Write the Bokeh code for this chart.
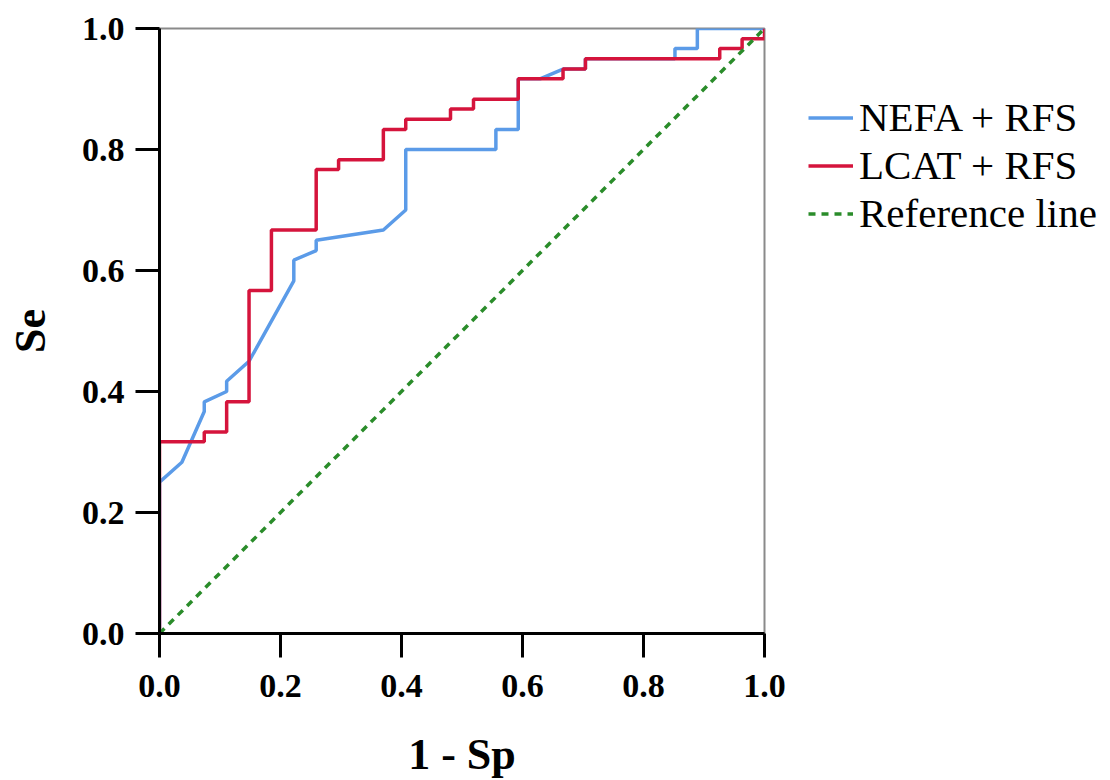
from bokeh.plotting import figure
from bokeh.models import Range1d, FixedTicker, NumeralTickFormatter, Legend, LegendItem
from bokeh.embed import file_html
from bokeh.resources import INLINE

# ROC curve data (1 - Sp, Se)
nefa_x = [0.0, 0.0, 0.037, 0.074, 0.074, 0.111, 0.111, 0.148, 0.222, 0.222, 0.259, 0.259,
          0.370, 0.407, 0.407, 0.556, 0.556, 0.593, 0.593, 0.630, 0.667, 0.704, 0.704,
          0.852, 0.852, 0.889, 0.889, 1.0]
nefa_y = [0.0, 0.250, 0.283, 0.367, 0.383, 0.400, 0.417, 0.450, 0.583, 0.617, 0.633, 0.650,
          0.667, 0.700, 0.800, 0.800, 0.833, 0.833, 0.917, 0.917, 0.933, 0.933, 0.950,
          0.950, 0.967, 0.967, 1.0, 1.0]

lcat_x = [0.0, 0.0, 0.074, 0.074, 0.111, 0.111, 0.148, 0.148, 0.185, 0.185, 0.259, 0.259,
          0.296, 0.296, 0.370, 0.370, 0.407, 0.407, 0.481, 0.481, 0.519, 0.519, 0.593,
          0.593, 0.667, 0.667, 0.704, 0.704, 0.926, 0.926, 0.963, 0.963, 1.0, 1.0]
lcat_y = [0.0, 0.317, 0.317, 0.333, 0.333, 0.383, 0.383, 0.567, 0.567, 0.667, 0.667, 0.767,
          0.767, 0.783, 0.783, 0.833, 0.833, 0.850, 0.850, 0.867, 0.867, 0.883, 0.883,
          0.917, 0.917, 0.933, 0.933, 0.950, 0.950, 0.967, 0.967, 0.983, 0.983, 1.0]

ref_x = [0.0, 1.0]
ref_y = [0.0, 1.0]

ticks = [0.0, 0.2, 0.4, 0.6, 0.8, 1.0]
series_names = ["NEFA + RFS", "LCAT + RFS", "Reference line"]

BLUE = "#5b9be8"
RED = "#d5143c"
GREEN = "#2a8c2a"
FONT = "Liberation Serif"

p = figure(frame_width=605, frame_height=605, output_backend="svg", toolbar_location=None,
           x_range=Range1d(0, 1), y_range=Range1d(0, 1))
p.min_border_left = 159
p.min_border_top = 28
p.min_border_right = 6
p.min_border_bottom = 0

p.xgrid.visible = False
p.ygrid.visible = False
p.outline_line_color = "#8a8a8a"
p.outline_line_width = 2
p.background_fill_color = "white"
p.border_fill_color = "white"

r_nefa = p.line(nefa_x, nefa_y, line_color=BLUE, line_width=3.5)
r_lcat = p.line(lcat_x, lcat_y, line_color=RED, line_width=3.5)
r_ref = p.line(ref_x, ref_y, line_color=GREEN, line_width=3.5, line_dash="7 6")

for ax in (p.xaxis[0], p.yaxis[0]):
    ax.ticker = FixedTicker(ticks=ticks)
    ax.formatter = NumeralTickFormatter(format="0.0")
    ax.axis_line_color = "black"
    ax.axis_line_width = 3
    ax.major_tick_line_color = "black"
    ax.major_tick_line_width = 3
    ax.major_tick_in = 0
    ax.major_tick_out = 24
    ax.minor_tick_line_color = None
    ax.major_label_text_font = FONT
    ax.major_label_text_font_style = "bold"
    ax.major_label_text_font_size = "34px"
    ax.major_label_text_color = "black"
    ax.axis_label_text_font = FONT
    ax.axis_label_text_font_style = "bold"
    ax.axis_label_text_font_size = "44px"
    ax.axis_label_text_color = "black"

p.xaxis.axis_label = "1 - Sp"
p.yaxis.axis_label = "Se"
p.xaxis.major_label_standoff = 17
p.yaxis.major_label_standoff = 11
p.xaxis.axis_label_standoff = 30
p.yaxis.axis_label_standoff = 24

legend = Legend(items=[
    LegendItem(label=series_names[0], renderers=[r_nefa]),
    LegendItem(label=series_names[1], renderers=[r_lcat]),
    LegendItem(label=series_names[2], renderers=[r_ref]),
], location=(34, 386))
legend.border_line_alpha = 0
legend.background_fill_alpha = 0
legend.label_text_font = FONT
legend.label_text_font_size = "41px"
legend.label_text_color = "black"
legend.glyph_width = 45
legend.glyph_height = 47
legend.label_height = 47
legend.label_standoff = 6
legend.spacing = 0
legend.padding = 10
legend.margin = 0
p.add_layout(legend, "right")

open("out.html", "w").write(file_html(p, INLINE))
